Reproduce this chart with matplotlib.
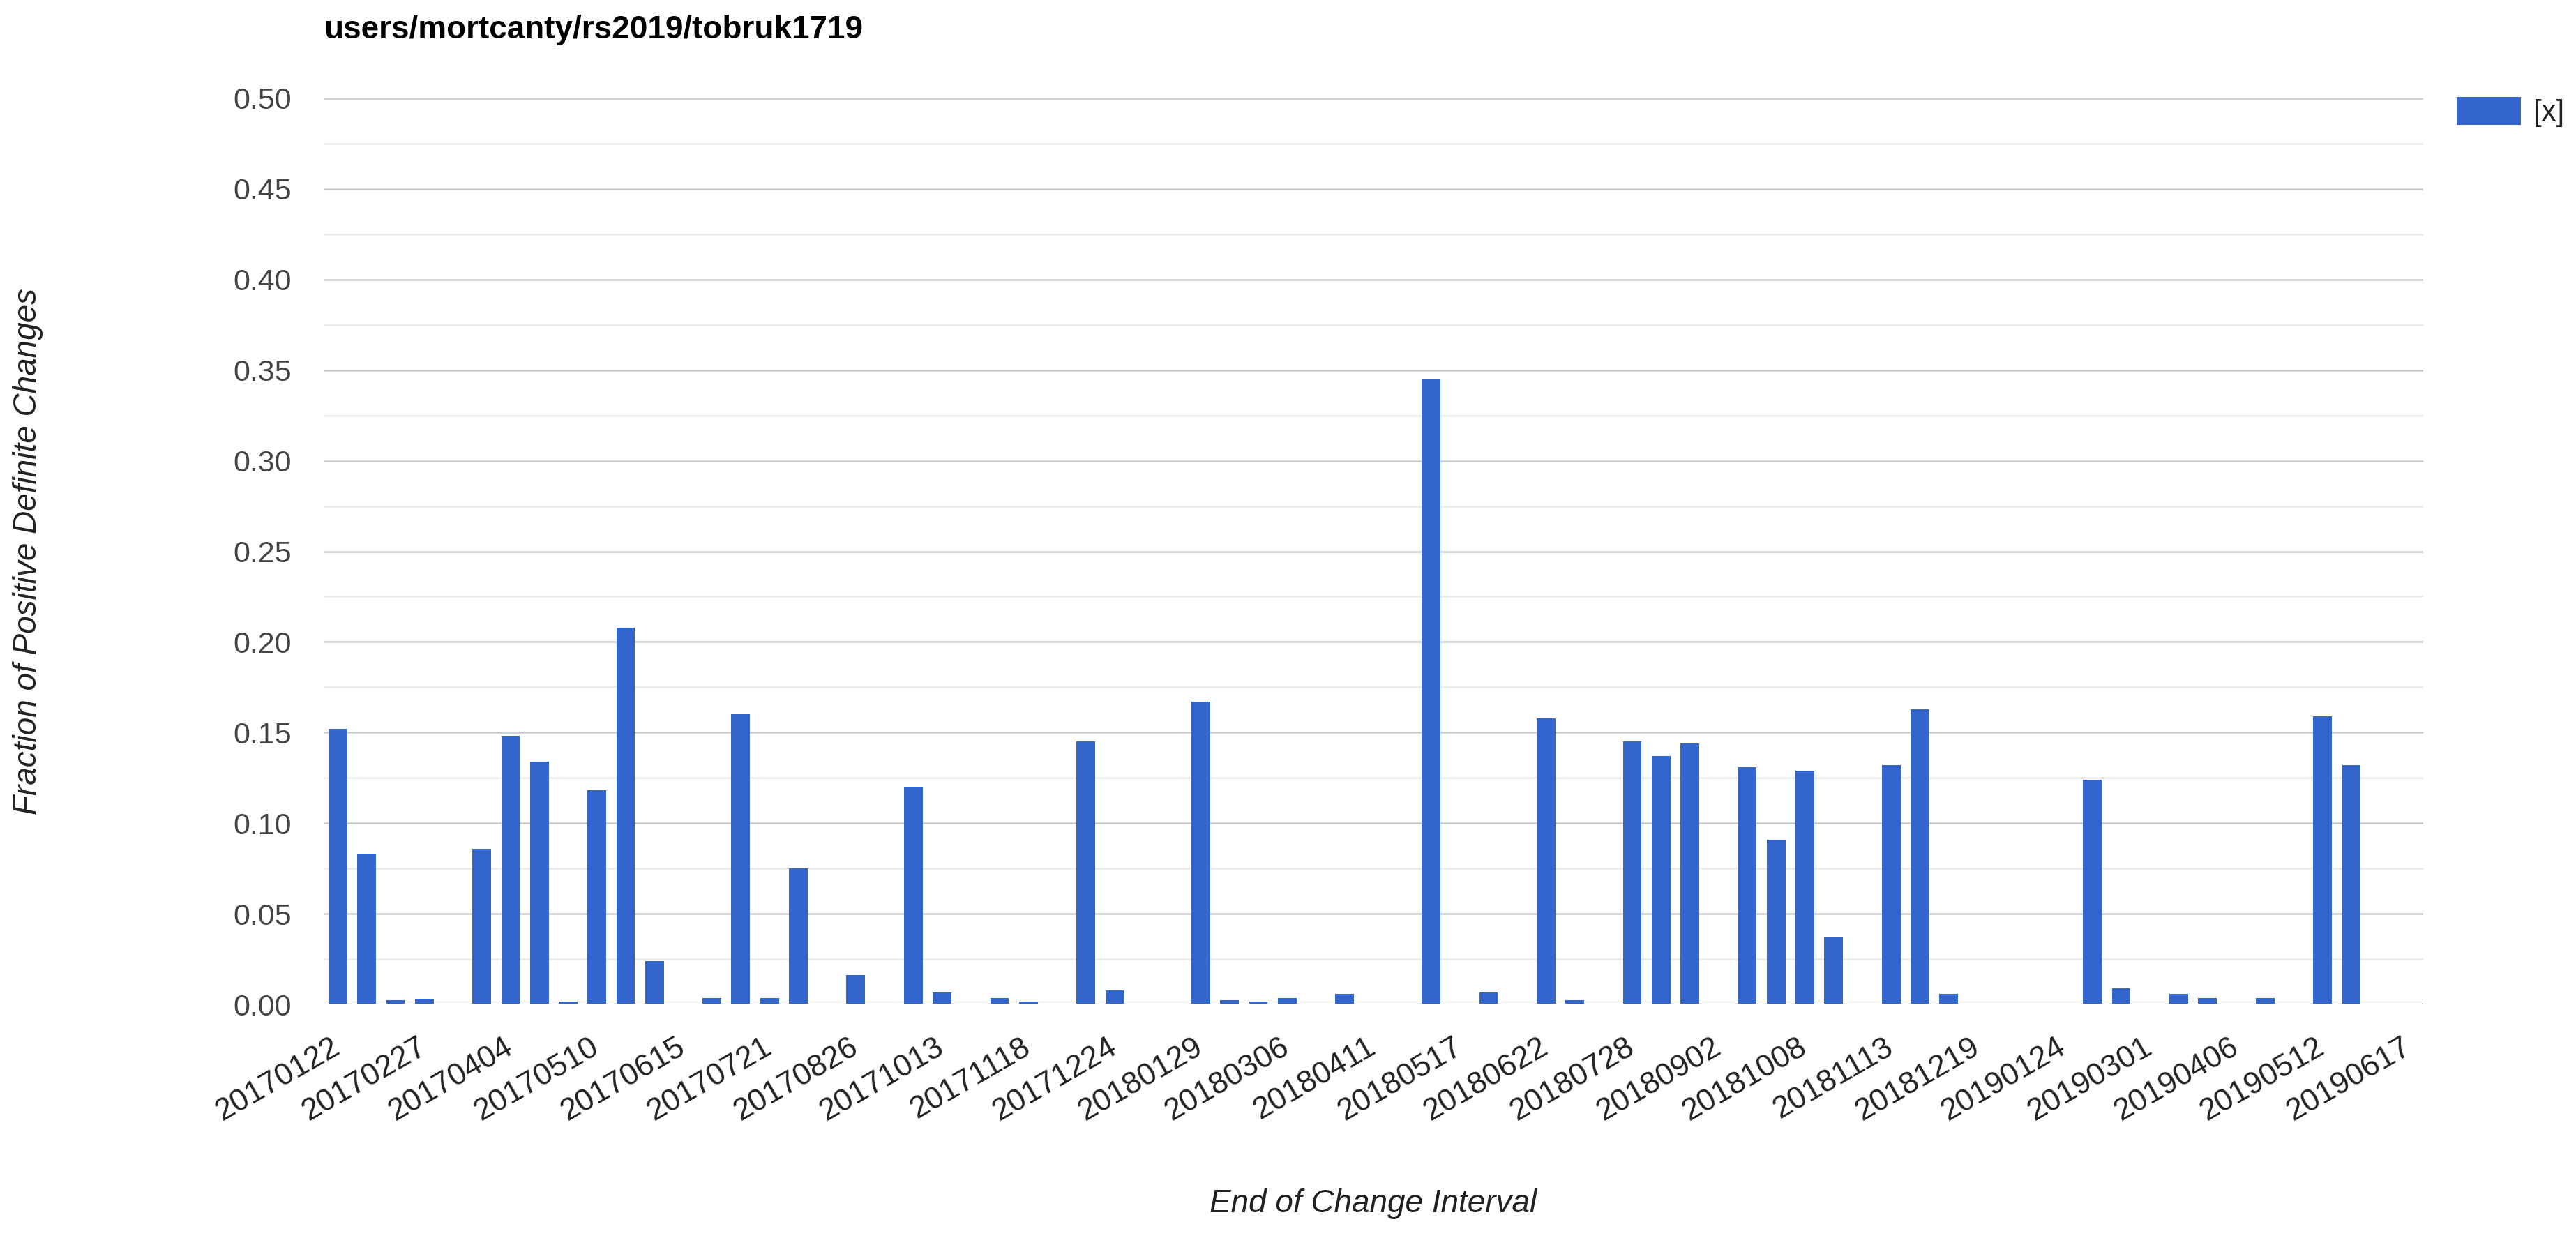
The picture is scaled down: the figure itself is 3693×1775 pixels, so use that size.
import matplotlib
matplotlib.use("Agg")
import matplotlib.pyplot as plt
import numpy as np

plt.rcParams['font.family'] = ['Liberation Sans', 'DejaVu Sans']

# Fechas (fin del intervalo de cambio) y fracción de cambios definidos positivos
dates = [
    '20170122', '20170203', '20170215', '20170227', '20170311', '20170323',
    '20170404', '20170416', '20170428', '20170510', '20170522', '20170603',
    '20170615', '20170627', '20170709', '20170721', '20170802', '20170814',
    '20170826', '20170907', '20170919', '20171013', '20171025', '20171106',
    '20171118', '20171130', '20171212', '20171224', '20180105', '20180117',
    '20180129', '20180210', '20180222', '20180306', '20180318', '20180330',
    '20180411', '20180423', '20180505', '20180517', '20180529', '20180610',
    '20180622', '20180704', '20180716', '20180728', '20180809', '20180821',
    '20180902', '20180914', '20180926', '20181008', '20181020', '20181101',
    '20181113', '20181125', '20181207', '20181219', '20181231', '20190112',
    '20190124', '20190205', '20190217', '20190301', '20190313', '20190325',
    '20190406', '20190418', '20190430', '20190512', '20190524', '20190605',
    '20190617',
]

fractions = [
    0.152, 0.083, 0.0024, 0.0029, 0.0004, 0.086, 0.148, 0.134, 0.0014, 0.118,
    0.208, 0.024, 0.0004, 0.0034, 0.160, 0.0034, 0.075, 0.0004, 0.016, 0.0004,
    0.120, 0.0067, 0.0004, 0.0034, 0.0017, 0.0004, 0.145, 0.0077, 0.0004, 0.0004,
    0.167, 0.0024, 0.0014, 0.0034, 0.0004, 0.0058, 0.0004, 0.0004, 0.345, 0.0004,
    0.0067, 0.0004, 0.158, 0.0024, 0.0004, 0.145, 0.137, 0.144, 0.0004, 0.131,
    0.091, 0.129, 0.037, 0.0004, 0.132, 0.163, 0.0058, 0.0004, 0.0004, 0.0004,
    0.0004, 0.124, 0.0087, 0.0004, 0.0058, 0.0034, 0.0004, 0.0034, 0.0004, 0.159,
    0.132, 0.0004, 0.0004,
]

# Solo se etiqueta una de cada tres fechas
label_step = 3

fig = plt.figure(figsize=(36.93, 17.75), dpi=100)
ax = fig.add_axes([464 / 3693, 1 - 1440 / 1775, 3010 / 3693, 1299 / 1775])

x = np.arange(len(dates))
ax.bar(x, fractions, width=0.65, color='#3366cc', label='[x]', zorder=3)

# Ejes y cuadrícula
ax.set_xlim(-0.5, len(dates) - 0.5)
ax.set_ylim(0, 0.5)
ax.set_yticks(np.arange(0, 0.501, 0.05))
ax.set_yticks(np.arange(0.025, 0.5, 0.05), minor=True)
ax.set_yticklabels([f'{v:.2f}' for v in np.arange(0, 0.501, 0.05)])
ax.grid(axis='y', which='major', color='#cccccc', linewidth=1.8, zorder=0)
ax.grid(axis='y', which='minor', color='#ebebeb', linewidth=1.8, zorder=0)
ax.axhline(0, color='#333333', linewidth=2.2, zorder=4)
for side in ['top', 'right', 'left', 'bottom']:
    ax.spines[side].set_visible(False)

ax.set_xticks(x[::label_step])
ax.set_xticklabels(dates[::label_step], rotation=30, ha='right', va='center',
                   rotation_mode='anchor')
ax.tick_params(axis='x', length=0, pad=42, labelsize=32, labelcolor='#222222')
ax.tick_params(axis='y', which='both', length=0, pad=33, labelsize=31, labelcolor='#444444')

# Títulos
ax.set_title('users/mortcanty/rs2019/tobruk1719', loc='left', fontsize=33,
             fontweight='bold', pad=62, color='#000000')
ax.set_xlabel('End of Change Interval', fontsize=33, style='italic', color='#222222')
ax.xaxis.set_label_coords(0.5, -(1726 - 1440) / 1299)
ax.xaxis.label.set_va('center')
ax.set_ylabel('Fraction of Positive Definite Changes', fontsize=33, style='italic',
              color='#222222')
ax.yaxis.set_label_coords((40 - 464) / 3010, 0.5)
ax.yaxis.label.set_va('center')

# Leyenda a la derecha
ax.legend(loc='upper left', bbox_to_anchor=(3522 / 3693, 1 - 139 / 1775),
          bbox_transform=fig.transFigure, frameon=False, fontsize=30,
          borderaxespad=0, borderpad=0, handlelength=2.2, handleheight=1.1,
          handletextpad=0.43, labelcolor='#222222')

plt.savefig('out.png', dpi=100)
plt.close(fig)
